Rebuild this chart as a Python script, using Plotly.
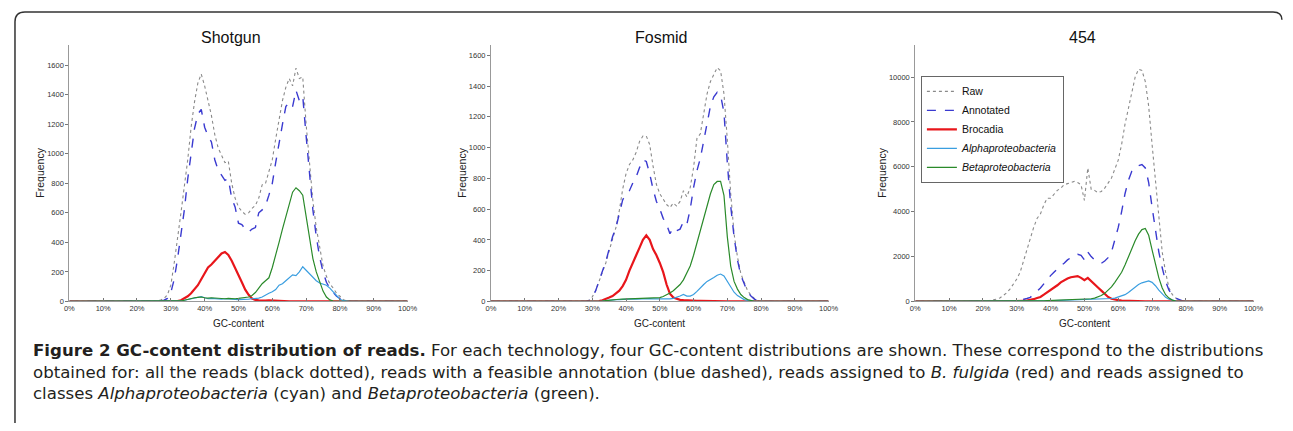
import plotly.graph_objects as go

# page is 1293x431; the browser adds an 8px body margin round the figure
PAGE_W, PAGE_H, OFF = 1293, 431, 8
W, H = PAGE_W - 2 * OFF, PAGE_H - 2 * OFF

# ---------------- data (GC-content in %, 1% bins) ----------------
gc = list(range(0, 101))

panels = ["Shotgun", "Fosmid", "454"]
series_names = ["Raw", "Annotated", "Brocadia",
                "<i>Alphaproteobacteria</i>", "<i>Betaproteobacteria</i>"]

# each series: (first GC bin, values from that bin on); bins outside are 0
shotgun_raw = (26, [3, 10, 20, 45, 110, 260, 420, 600, 780, 960, 1180, 1350, 1480, 1540, 1460, 1360,
                    1260, 1130, 1040, 990, 940, 950, 800, 700, 640, 610, 590, 600, 630, 650, 700, 790,
                    800, 880, 960, 1100, 1230, 1360, 1450, 1510, 1460, 1580, 1510, 1520, 1200, 920, 680,
                    500, 360, 240, 170, 120, 90, 55, 35, 12, 3])
shotgun_annot = (27, [3, 8, 20, 60, 150, 290, 450, 620, 830, 1010, 1170, 1270, 1300, 1180, 1120, 1080,
                      960, 890, 850, 820, 830, 700, 640, 530, 520, 490, 470, 490, 500, 600, 620, 650,
                      720, 800, 940, 1080, 1200, 1320, 1350, 1320, 1430, 1360, 1390, 1120, 860, 620,
                      440, 300, 200, 130, 90, 60, 35, 20, 5])
shotgun_broc = (32, [2, 8, 20, 35, 55, 80, 110, 150, 190, 230, 250, 275, 300, 325, 335, 315, 275, 230,
                     180, 130, 80, 45, 20, 10, 8, 6, 5, 8, 6, 5, 4, 3, 2])
shotgun_alpha = (33, [3, 8, 12, 18, 22, 28, 32, 25, 18, 20, 18, 15, 15, 18, 15, 12, 14, 12, 12, 14, 15,
                      18, 20, 22, 30, 45, 55, 65, 80, 110, 120, 140, 160, 180, 175, 200, 235, 210, 185,
                      160, 140, 125, 120, 110, 90, 65, 35, 15, 5])
shotgun_beta = (33, [3, 8, 15, 20, 25, 28, 30, 25, 22, 25, 22, 20, 20, 18, 20, 18, 18, 20, 22, 25, 30,
                     40, 60, 90, 120, 140, 160, 230, 310, 400, 490, 580, 660, 740, 770, 750, 720, 580,
                     430, 290, 200, 130, 70, 30, 10, 3])

fosmid_raw = (29, [8, 30, 70, 130, 190, 250, 330, 400, 480, 590, 730, 830, 890, 920, 970, 1040, 1075,
                   1075, 1020, 880, 760, 700, 660, 630, 610, 640, 620, 650, 720, 680, 740, 870, 1060,
                   1090, 1220, 1350, 1430, 1480, 1520, 1500, 1350, 1050, 700, 440, 290, 180, 120, 70,
                   40, 20, 8])
fosmid_annot = (29, [5, 25, 70, 130, 190, 260, 340, 420, 480, 580, 660, 700, 720, 770, 810, 870, 920,
                     910, 830, 730, 650, 600, 540, 500, 440, 480, 460, 470, 520, 500, 600, 740, 850,
                     930, 1040, 1170, 1270, 1330, 1360, 1340, 1230, 900, 620, 420, 270, 170, 110, 60,
                     35, 15, 5])
fosmid_broc = (32, [2, 8, 15, 25, 35, 50, 70, 100, 140, 200, 255, 300, 350, 400, 430, 400, 340, 300,
                    250, 190, 110, 50, 25, 15, 10, 8, 6, 5, 5, 4, 4, 3, 3, 2, 2, 2, 1])
fosmid_alpha = (33, [2, 5, 8, 10, 12, 12, 14, 15, 15, 16, 15, 16, 18, 18, 18, 16, 15, 15, 14, 14, 16,
                     20, 25, 35, 45, 35, 35, 45, 65, 90, 110, 130, 140, 155, 170, 178, 165, 130, 95,
                     60, 38, 22, 12, 6, 2])
fosmid_beta = (33, [2, 5, 8, 10, 12, 14, 15, 16, 15, 16, 18, 20, 20, 22, 24, 25, 22, 25, 32, 42, 55,
                    70, 88, 110, 140, 180, 230, 300, 380, 460, 550, 630, 700, 760, 780, 780, 690, 420,
                    230, 130, 80, 45, 25, 12, 5])

r454_raw = (19, [10, 20, 30, 40, 60, 100, 150, 250, 380, 550, 750, 1000, 1300, 1800, 2400, 2800, 3300,
                 3700, 3900, 4300, 4600, 4600, 4800, 4950, 5050, 5200, 5250, 5300, 5350, 5300, 5200,
                 4500, 5950, 5000, 4950, 4850, 4900, 5050, 5300, 5500, 5900, 6300, 7000, 7900, 8600,
                 9300, 10000, 10350, 10300, 9800, 8700, 7000, 5400, 3600, 2200, 1300, 600, 300, 150,
                 60, 20])
r454_annot = (29, [10, 25, 50, 80, 130, 180, 300, 450, 600, 800, 950, 1150, 1300, 1450, 1600, 1700,
                   1850, 1950, 2050, 2100, 2050, 1850, 2200, 2000, 1850, 1750, 1700, 1800, 1950, 2200,
                   2700, 3300, 4000, 4800, 5400, 5800, 6000, 6050, 6100, 5950, 5300, 4200, 3200, 2200,
                   1500, 900, 500, 280, 150, 70, 25])
r454_broc = (31, [10, 20, 40, 60, 100, 150, 200, 300, 400, 500, 600, 720, 850, 950, 1020, 1080, 1120,
                  1130, 1050, 950, 1050, 920, 780, 620, 480, 330, 200, 120, 80, 55, 40, 30, 20, 15, 10, 5])
r454_alpha = (35, [5, 10, 15, 20, 25, 30, 35, 40, 45, 50, 55, 60, 60, 60, 60, 65, 70, 75, 80, 85, 90,
                   100, 110, 130, 150, 190, 240, 300, 400, 520, 640, 750, 830, 880, 910, 850, 700, 500,
                   320, 180, 100, 50, 20])
r454_beta = (33, [5, 10, 15, 20, 25, 30, 35, 40, 45, 50, 55, 60, 65, 70, 75, 80, 90, 100, 110, 120, 150,
                  190, 260, 360, 500, 650, 850, 1050, 1300, 1620, 2000, 2350, 2700, 3000, 3200, 3250,
                  2950, 2300, 1600, 1050, 600, 300, 150, 60, 20])

panel_data = [
    [shotgun_raw, shotgun_annot, shotgun_broc, shotgun_alpha, shotgun_beta],
    [fosmid_raw, fosmid_annot, fosmid_broc, fosmid_alpha, fosmid_beta],
    [r454_raw, r454_annot, r454_broc, r454_alpha, r454_beta],
]

y_ticks = [
    [0, 200, 400, 600, 800, 1000, 1200, 1400, 1600],
    [0, 200, 400, 600, 800, 1000, 1200, 1400, 1600],
    [0, 2000, 4000, 6000, 8000, 10000],
]
y_max = [1740, 1670, 11450]
x_ticks = list(range(0, 101, 10))
x_labels = [f"{t}%" for t in x_ticks]

caption_lines = [
    "<b>Figure 2 GC-content distribution of reads.</b> For each technology, four GC-content "
    "distributions are shown. These correspond to the distributions",
    "obtained for: all the reads (black dotted), reads with a feasible annotation (blue dashed), "
    "reads assigned to <i>B. fulgida</i> (red) and reads assigned to",
    "classes <i>Alphaproteobacteria</i> (cyan) and <i>Betaproteobacteria</i> (green).",
]


def full(series):
    start, vals = series
    out = [0] * len(gc)
    for i, v in enumerate(vals):
        out[start + i] = v
    return out


def fx(x):  # page pixel -> paper fraction
    return (x - OFF) / W


def fy(y):
    return 1 - (y - OFF) / H


# ---------------- styling ----------------
styles = [
    dict(color="#8a8a8a", width=1.1, dash="dot"),
    dict(color="#3a3ad0", width=1.4, dash="dash"),
    dict(color="#e8161b", width=2.2, dash="solid"),
    dict(color="#3a9ee0", width=1.2, dash="solid"),
    dict(color="#2a8a2a", width=1.2, dash="solid"),
]

ax_px = [(65, 407.3), (491.7, 833.3), (921, 1263.3)]
y_bottom_px, y_top_px = 305, 45
title_px = [229, 664, 1090]
freq_px = [35, 462, 887]

fig = go.Figure()
tick_font = dict(family="Liberation Sans, Arial", size=7.5, color="#333")


def note(text, x, y, size, family="Liberation Sans, Arial", color="#222", **kw):
    fig.add_annotation(text=text, x=fx(x), y=fy(y), xref="paper", yref="paper",
                       showarrow=False, xanchor=kw.pop("xanchor", "center"),
                       yanchor="middle", font=dict(family=family, size=size, color=color),
                       **kw)


for p in range(3):
    sfx = "" if p == 0 else str(p + 1)
    for s in range(5):
        fig.add_trace(go.Scatter(
            x=gc, y=full(panel_data[p][s]), mode="lines",
            name=series_names[s], line=styles[s],
            xaxis="x" + sfx, yaxis="y" + sfx,
            showlegend=(p == 2), legendgroup=str(s),
        ))
    x0, x1 = ax_px[p]
    fig.layout["xaxis" + sfx] = dict(
        domain=[fx(x0), fx(x1)], range=[0, 100], anchor="y" + sfx,
        tickvals=x_ticks, ticktext=x_labels, ticks="inside", ticklen=3,
        tickcolor="#777", showline=True, linecolor="#999", linewidth=1,
        showgrid=False, zeroline=False, tickfont=tick_font,
    )
    fig.layout["yaxis" + sfx] = dict(
        domain=[fy(y_bottom_px), fy(y_top_px)], range=[0, y_max[p]],
        anchor="x" + sfx, tickvals=y_ticks[p], ticktext=[str(v) for v in y_ticks[p]],
        ticks="outside", ticklen=3,
        tickcolor="#777", showline=True, linecolor="#999", linewidth=1,
        showgrid=False, zeroline=False, tickfont=tick_font,
    )
    note(panels[p], title_px[p], 38, 16, color="#111")
    note("GC-content", (x0 + x1) / 2, 327, 10)
    note("Frequency", freq_px[p], 175, 10.5, textangle=-90)

# caption as one block (3 lines)
note("<br>".join(caption_lines), 26, 376, 16.6, family="DejaVu Sans",
     color="#231f20", xanchor="left", align="left")


def pt(x, y):
    return f"{fx(x):.5f},{fy(y):.5f}"


frame = (f"M {pt(10, 440)} L {pt(10, 22)} Q {pt(10, 12)} {pt(20, 12)} "
         f"L {pt(1283, 12)} Q {pt(1292, 12)} {pt(1292, 20)}")
fig.add_shape(type="path", path=frame, xref="paper", yref="paper",
              line=dict(color="#333", width=1.5))

fig.update_layout(
    width=W, height=H, margin=dict(l=0, r=0, t=0, b=0),
    paper_bgcolor="white", plot_bgcolor="white",
    legend=dict(x=fx(926.7), y=fy(76.7), xanchor="left", yanchor="top",
                bordercolor="#666", borderwidth=1, bgcolor="white",
                font=dict(family="Liberation Sans, Arial", size=10.5, color="#111"),
                itemwidth=30, tracegroupgap=0),
)

fig.write_html("out.html")
